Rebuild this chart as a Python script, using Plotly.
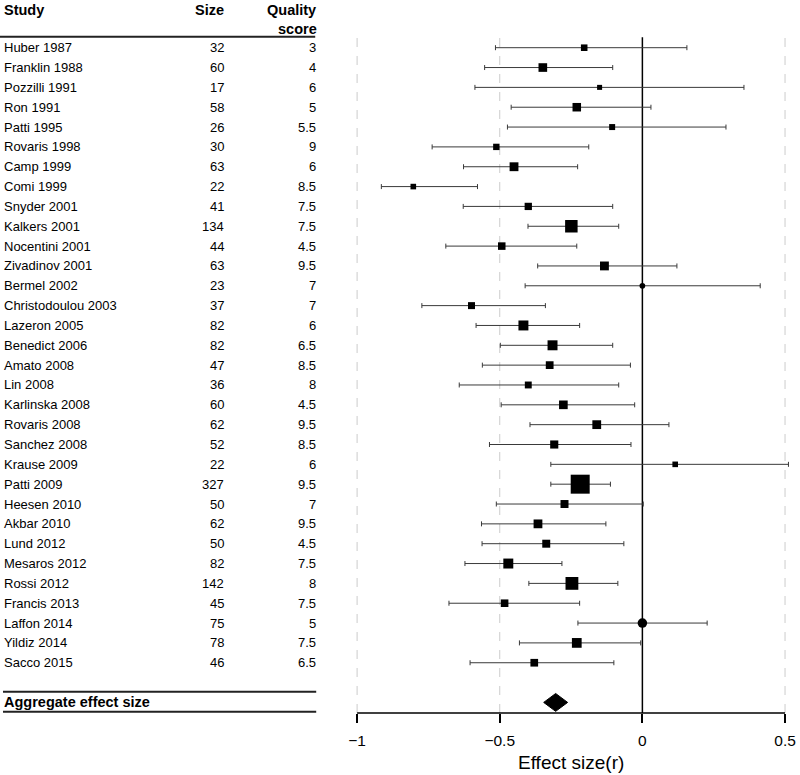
import math
import plotly.graph_objects as go

studies = ["Huber 1987", "Franklin 1988", "Pozzilli 1991", "Ron 1991", "Patti 1995",
           "Rovaris 1998", "Camp 1999", "Comi 1999", "Snyder 2001", "Kalkers 2001",
           "Nocentini 2001", "Zivadinov 2001", "Bermel 2002", "Christodoulou 2003",
           "Lazeron 2005", "Benedict 2006", "Amato 2008", "Lin 2008", "Karlinska 2008",
           "Rovaris 2008", "Sanchez 2008", "Krause 2009", "Patti 2009", "Heesen 2010",
           "Akbar 2010", "Lund 2012", "Mesaros 2012", "Rossi 2012", "Francis 2013",
           "Laffon 2014", "Yildiz 2014", "Sacco 2015"]
sizes = [32, 60, 17, 58, 26, 30, 63, 22, 41, 134, 44, 63, 23, 37, 82, 82, 47, 36, 60,
         62, 52, 22, 327, 50, 62, 50, 82, 142, 45, 75, 78, 46]
quality = [3, 4, 6, 5, 5.5, 9, 6, 8.5, 7.5, 7.5, 4.5, 9.5, 7, 7, 6, 6.5, 8.5, 8, 4.5,
           9.5, 8.5, 6, 9.5, 7, 9.5, 4.5, 7.5, 8, 7.5, 5, 7.5, 6.5]
effect = [-0.204, -0.349, -0.150, -0.230, -0.106, -0.512, -0.450, -0.803, -0.400, -0.249,
          -0.493, -0.133, 0.0, -0.599, -0.417, -0.315, -0.325, -0.400, -0.277, -0.160,
          -0.309, 0.115, -0.218, -0.273, -0.366, -0.337, -0.470, -0.247, -0.483, 0.0,
          -0.230, -0.379]
ci_low = [-0.515, -0.553, -0.587, -0.460, -0.473, -0.737, -0.627, -0.915, -0.628, -0.401,
          -0.689, -0.367, -0.411, -0.773, -0.583, -0.498, -0.561, -0.642, -0.495, -0.394,
          -0.536, -0.321, -0.321, -0.512, -0.564, -0.562, -0.622, -0.398, -0.678, -0.226,
          -0.431, -0.604]
ci_high = [0.156, -0.104, 0.356, 0.030, 0.293, -0.188, -0.227, -0.578, -0.104, -0.083,
           -0.230, 0.121, 0.413, -0.340, -0.220, -0.104, -0.042, -0.083, -0.027, 0.093,
           -0.040, 0.512, -0.112, 0.003, -0.128, -0.065, -0.282, -0.086, -0.220, 0.227,
           -0.006, -0.100]
agg_label = "Aggregate effect size"
agg_effect = -0.304
agg_low = -0.346
agg_high = -0.262
x_ticks = [-1, -0.5, 0, 0.5]
x_ticklabels = ["\u22121", "\u22120.5", "0", "0.5"]
x_title = "Effect size(r)"
headers = ["Study", "Size", "Quality", "score"]

FONT = "Liberation Sans, Arial, sans-serif"
W, H = 800, 775
T, B = 38, 62
PLOT_H = H - T - B
n = len(studies)
agg_row = n + 1
rows = list(range(n))


def py(px):
    # pixel y -> paper y
    return (H - B - px) / PLOT_H


def row_of(px):
    return (px - 47.7) / 19.84


fig = go.Figure()

# study estimates with CIs
fig.add_trace(go.Scatter(
    x=effect, y=rows, mode="markers",
    marker=dict(symbol=["circle" if e == 0 else "square" for e in effect],
                size=[math.sqrt(s) + 0.9 for s in sizes], color="black",
                opacity=1, line=dict(width=0)),
    error_x=dict(type="data", symmetric=False,
                 array=[h - e for h, e in zip(ci_high, effect)],
                 arrayminus=[e - l for e, l in zip(effect, ci_low)],
                 color="#3a3a3a", thickness=1, width=2.5),
    cliponaxis=False, hoverinfo="skip", showlegend=False))

# aggregate diamond
hh = 0.45
fig.add_trace(go.Scatter(
    x=[agg_low, agg_effect, agg_high, agg_effect, agg_low],
    y=[agg_row, agg_row - hh, agg_row, agg_row + hh, agg_row],
    mode="lines", fill="toself", fillcolor="black", line=dict(color="black", width=1),
    hoverinfo="skip", showlegend=False))

shapes = []
for xv in x_ticks:
    if xv == 0:
        continue
    shapes.append(dict(type="line", xref="x", yref="paper", x0=xv, x1=xv, y0=0, y1=1,
                       line=dict(color="#cccccc", width=1, dash="dash"), layer="below"))
shapes.append(dict(type="line", xref="x", yref="paper", x0=0, x1=0, y0=0, y1=1.001,
                   line=dict(color="black", width=1.5), layer="below"))
shapes.append(dict(type="line", xref="x", yref="paper", x0=x_ticks[0], x1=x_ticks[-1],
                   y0=0, y1=0, line=dict(color="black", width=1.5)))
# table lines
shapes.append(dict(type="line", xref="paper", yref="paper", x0=0, x1=316 / W,
                   y0=py(36.8), y1=py(36.8), line=dict(color="#222222", width=2)))
for yy in (691.7, 711.7):
    shapes.append(dict(type="line", xref="paper", yref="paper", x0=3 / W, x1=317 / W,
                       y0=py(yy), y1=py(yy), line=dict(color="#222222", width=2)))

ann = []
col_study, col_size, col_q = 2 / W, 227 / W, 319 / W
rfont = dict(family=FONT, size=13, color="black")
for i in rows:
    ann.append(dict(x=col_study, y=i, xref="paper", yref="y", text=studies[i],
                    xanchor="left", yanchor="middle", showarrow=False, font=rfont))
    ann.append(dict(x=col_size, y=i, xref="paper", yref="y", text=str(sizes[i]),
                    xanchor="right", yanchor="middle", showarrow=False, font=rfont))
    ann.append(dict(x=col_q, y=i, xref="paper", yref="y", text=f"{quality[i]:g}",
                    xanchor="right", yanchor="middle", showarrow=False, font=rfont))
hfont = dict(family=FONT, size=14.5, color="black")
hy1, hy2 = py(9.5), py(28.8)
ann.append(dict(x=col_study, y=hy1, xref="paper", yref="paper", text="<b>%s</b>" % headers[0],
                xanchor="left", yanchor="middle", showarrow=False, font=hfont))
ann.append(dict(x=col_size, y=hy1, xref="paper", yref="paper", text="<b>%s</b>" % headers[1],
                xanchor="right", yanchor="middle", showarrow=False, font=hfont))
ann.append(dict(x=col_q, y=hy1, xref="paper", yref="paper", text="<b>%s</b>" % headers[2],
                xanchor="right", yanchor="middle", showarrow=False, font=hfont))
ann.append(dict(x=col_q + 1 / W, y=hy2, xref="paper", yref="paper", text="<b>%s</b>" % headers[3],
                xanchor="right", yanchor="middle", showarrow=False, font=hfont))
ann.append(dict(x=col_study, y=agg_row, xref="paper", yref="y", text="<b>%s</b>" % agg_label,
                xanchor="left", yanchor="middle", showarrow=False, font=hfont))
ann.append(dict(x=(x_ticks[0] + x_ticks[-1]) / 2, y=py(763), xref="x", yref="paper",
                text=x_title, xanchor="center", yanchor="middle", showarrow=False,
                font=dict(family=FONT, size=19, color="black")))

fig.update_layout(
    width=W, height=H, margin=dict(l=0, r=0, t=T, b=B, pad=0),
    paper_bgcolor="white", plot_bgcolor="white",
    xaxis=dict(domain=[349.42 / W, 795.58 / W], range=[-1.03, 0.53],
               tickmode="array", tickvals=x_ticks, ticktext=x_ticklabels,
               ticks="outside", ticklen=9, tickwidth=1.5, tickcolor="black",
               ticklabelstandoff=4,
               showline=False, showgrid=False, zeroline=False,
               tickfont=dict(family=FONT, size=15.5, color="black")),
    yaxis=dict(range=[row_of(H - B), row_of(T)], visible=False, showgrid=False,
               zeroline=False),
    shapes=shapes, annotations=ann, showlegend=False,
)

fig.write_html("out.html", config={"displayModeBar": False},
               post_script="document.body.style.margin='0';")
